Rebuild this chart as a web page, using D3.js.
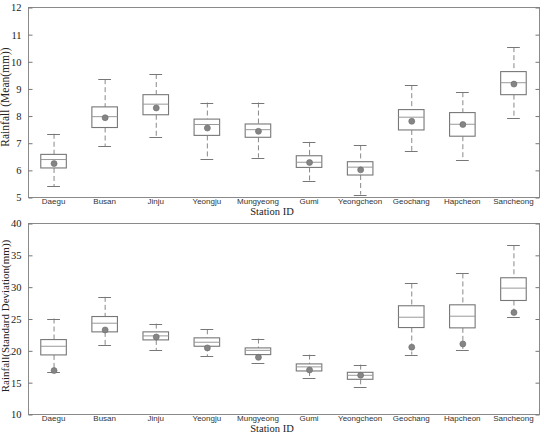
<!DOCTYPE html>
<html>
<head>
<meta charset="utf-8">
<style>
  body { margin: 0; background: #fff; }
  svg { display: block; }
</style>
</head>
<body>
<svg width="544" height="434"></svg>
<script src="https://d3js.org/d3.v7.min.js"></script>
<script>
// stations on the x axis
const stations = ["Daegu", "Busan", "Jinju", "Yeongju", "Mungyeong", "Gumi",
                  "Yeongcheon", "Geochang", "Hapcheon", "Sancheong"];

// top panel: mean rainfall (mm)
const meanLow  = [5.39, 6.88, 7.20, 6.41, 6.45, 5.60, 5.09, 6.70, 6.36, 7.90];
const meanQ1   = [6.07, 7.56, 8.03, 7.27, 7.20, 6.09, 5.81, 7.47, 7.24, 8.77];
const meanMed  = [6.38, 7.96, 8.42, 7.67, 7.48, 6.28, 6.10, 7.94, 7.68, 9.21];
const meanQ3   = [6.57, 8.32, 8.77, 7.87, 7.69, 6.52, 6.30, 8.22, 8.11, 9.62];
const meanHigh = [7.33, 9.34, 9.53, 8.48, 8.48, 7.03, 6.90, 9.12, 8.86, 10.52];
const meanObs  = [6.23, 7.92, 8.28, 7.54, 7.42, 6.27, 6.00, 7.79, 7.67, 9.16];
const meanTicks = [5, 6, 7, 8, 9, 10, 11, 12];

// bottom panel: standard deviation of rainfall (mm)
const sdLow  = [16.6, 20.8, 20.07, 19.07, 18.07, 15.6, 14.2, 19.33, 20.07, 25.3];
const sdQ1   = [19.28, 22.9, 21.64, 20.64, 19.33, 16.76, 15.45, 23.58, 23.53, 27.83];
const sdMed  = [20.64, 24.26, 22.27, 21.27, 20.0, 17.4, 16.08, 25.2, 25.36, 29.77];
const sdQ3   = [21.69, 25.31, 22.9, 21.96, 20.38, 17.87, 16.55, 27.0, 27.15, 31.4];
const sdHigh = [25.0, 28.4, 24.2, 23.3, 21.85, 19.33, 17.76, 30.5, 32.08, 36.5];
const sdObs  = [16.82, 23.2, 22.1, 20.38, 18.9, 16.92, 16.08, 20.5, 21.0, 25.94];
const sdTicks = [10, 15, 20, 25, 30, 35, 40];

const svg = d3.select("svg");
const left = 28, right = 539;
const serif = "'Liberation Serif', 'Times New Roman', serif";

function panel(opts) {
  const g = svg.append("g");
  const x = d3.scaleBand().domain(stations).range([left, right]).padding(0);
  const y = d3.scaleLinear().domain(opts.domain).range([opts.bottom, opts.top]);
  const bw = x.bandwidth() * 0.5;
  const cw = bw * 0.5;

  const rows = stations.map((s, i) => ({
    s, lo: opts.lo[i], q1: opts.q1[i], med: opts.med[i], q3: opts.q3[i], hi: opts.hi[i], obs: opts.obs[i]
  }));

  // frame
  g.append("rect")
    .attr("x", left + 0.5).attr("y", opts.top + 0.5)
    .attr("width", right - left).attr("height", opts.bottom - opts.top)
    .attr("fill", "none").attr("stroke", "#8a8a8a").attr("stroke-width", 1);

  // axes with inward ticks
  const ya = g.append("g").attr("transform", `translate(${left + 0.5},0.5)`)
    .call(d3.axisLeft(y).tickValues(opts.ticks).tickFormat(d3.format("d")).tickSize(-4).tickPadding(7));
  ya.select(".domain").remove();
  ya.selectAll("line").attr("stroke", "#777");
  ya.selectAll("text")
    .attr("font-family", serif)
    .attr("font-size", 10.5).attr("fill", "#222");

  const yr = g.append("g").attr("transform", `translate(${right + 0.5},0.5)`)
    .call(d3.axisRight(y).tickValues(opts.ticks).tickSize(-4).tickFormat(""));
  yr.select(".domain").remove();
  yr.selectAll("line").attr("stroke", "#777");

  // category labels
  g.selectAll(".xl").data(stations).join("text")
    .attr("x", d => x(d) + x.bandwidth() / 2)
    .attr("y", opts.bottom + 7)
    .attr("text-anchor", "middle")
    .attr("font-family", "'Liberation Sans', Arial, sans-serif")
    .attr("font-size", 8).attr("fill", "#333")
    .text(d => d);

  const box = g.selectAll(".box").data(rows).join("g")
    .attr("transform", d => `translate(${x(d.s) + x.bandwidth() / 2},0)`);

  // whiskers
  box.append("line").attr("x1", 0.5).attr("x2", 0.5)
    .attr("y1", d => y(d.hi)).attr("y2", d => y(d.q3))
    .attr("stroke", "#888").attr("stroke-dasharray", "5,3");
  box.append("line").attr("x1", 0.5).attr("x2", 0.5)
    .attr("y1", d => y(d.q1)).attr("y2", d => y(d.lo))
    .attr("stroke", "#888").attr("stroke-dasharray", "5,3");
  box.append("line").attr("x1", -cw / 2).attr("x2", cw / 2)
    .attr("y1", d => Math.round(y(d.hi)) + 0.5).attr("y2", d => Math.round(y(d.hi)) + 0.5)
    .attr("stroke", "#777");
  box.append("line").attr("x1", -cw / 2).attr("x2", cw / 2)
    .attr("y1", d => Math.round(y(d.lo)) + 0.5).attr("y2", d => Math.round(y(d.lo)) + 0.5)
    .attr("stroke", "#777");

  // box and median
  box.append("rect")
    .attr("x", -bw / 2).attr("width", bw)
    .attr("y", d => y(d.q3)).attr("height", d => y(d.q1) - y(d.q3))
    .attr("fill", "#fff").attr("stroke", "#777").attr("stroke-width", 1.1);
  box.append("line").attr("x1", -bw / 2).attr("x2", bw / 2)
    .attr("y1", d => y(d.med)).attr("y2", d => y(d.med))
    .attr("stroke", "#999");

  // observed value
  box.append("circle")
    .attr("cx", 0.5).attr("cy", d => y(d.obs)).attr("r", 3)
    .attr("fill", "#858585").attr("stroke", "#6a6a6a").attr("stroke-width", 0.6);

  // titles
  g.append("text")
    .attr("x", 272).attr("y", opts.bottom + 18)
    .attr("text-anchor", "middle")
    .attr("font-family", serif)
    .attr("font-size", 10.5).attr("fill", "#222")
    .text("Station ID");
  g.append("text")
    .attr("transform", `translate(9,${opts.titleY}) rotate(-90)`)
    .attr("text-anchor", "middle")
    .attr("font-family", serif)
    .attr("font-size", opts.titleSize).attr("fill", "#222")
    .text(opts.title);
}

panel({
  domain: [5, 12], top: 7, bottom: 197, ticks: meanTicks,
  lo: meanLow, q1: meanQ1, med: meanMed, q3: meanQ3, hi: meanHigh, obs: meanObs,
  title: "Rainfall (Mean(mm))", titleY: 97, titleSize: 11.5
});

panel({
  domain: [10, 40], top: 223, bottom: 414, ticks: sdTicks,
  lo: sdLow, q1: sdQ1, med: sdMed, q3: sdQ3, hi: sdHigh, obs: sdObs,
  title: "Rainfall(Standard Deviation(mm))", titleY: 316, titleSize: 11
});
</script>
</body>
</html>
